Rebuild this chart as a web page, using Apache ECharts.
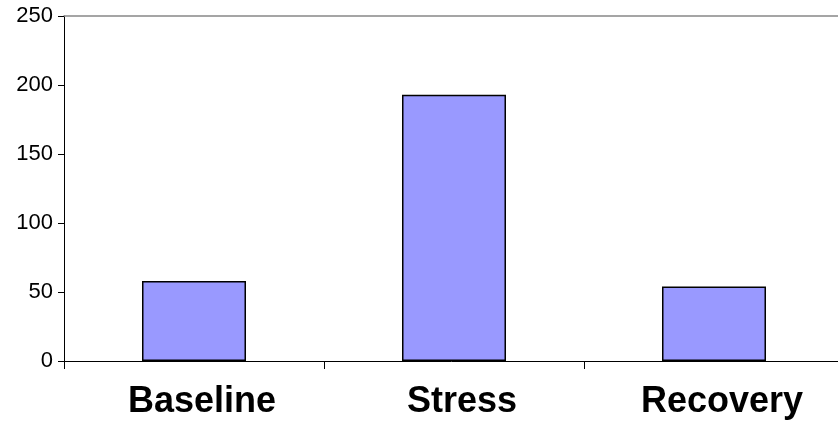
<!DOCTYPE html>
<html>
<head>
<meta charset="utf-8">
<script src="https://cdn.jsdelivr.net/npm/echarts@6/dist/echarts.min.js"></script>
<style>
  html, body { margin: 0; padding: 0; background: #fff; }
  #chart { width: 838px; height: 423px; }
</style>
</head>
<body>
<div id="chart"></div>
<script>
// 数据
var categories = ['Baseline', 'Stress', 'Recovery'];
var values = [58, 193, 54];
var yTicks = [0, 50, 100, 150, 200, 250];

var myChart = echarts.init(document.getElementById('chart'));
var option = {
  animation: false,
  // plot runs a little past the right edge of the picture
  grid: { left: 64, width: 780, top: 16, height: 345, outerBoundsMode: 'none', containLabel: false },
  xAxis: [
    {
      type: 'category',
      data: categories,
      axisLine: { lineStyle: { color: '#000', width: 1 } },
      axisTick: { show: true, length: 8, alignWithLabel: false, lineStyle: { color: '#000' } },
      axisLabel: {
        color: '#000',
        fontFamily: 'Arial, "Liberation Sans", sans-serif',
        fontWeight: 'bold',
        fontSize: 36,
        margin: 23,
        padding: [0, 0, 0, 16]
      }
    },
    {
      // top border of the plot area
      type: 'category',
      position: 'top',
      data: categories,
      axisLine: { lineStyle: { color: '#888', width: 1.5 } },
      axisTick: { show: false },
      axisLabel: { show: false }
    }
  ],
  yAxis: {
    type: 'value',
    min: yTicks[0],
    max: yTicks[yTicks.length - 1],
    interval: 50,
    splitLine: { show: false },
    axisLine: { show: true, lineStyle: { color: '#000', width: 1 } },
    axisTick: { show: true, length: 6, lineStyle: { color: '#000' } },
    axisLabel: {
      color: '#000',
      fontFamily: 'Arial, "Liberation Sans", sans-serif',
      fontSize: 22,
      margin: 11
    }
  },
  series: [
    {
      type: 'bar',
      data: values,
      barWidth: '40%',
      itemStyle: { color: '#9999FF', borderColor: '#000', borderWidth: 1.5 }
    }
  ]
};
myChart.setOption(option);
</script>
</body>
</html>
